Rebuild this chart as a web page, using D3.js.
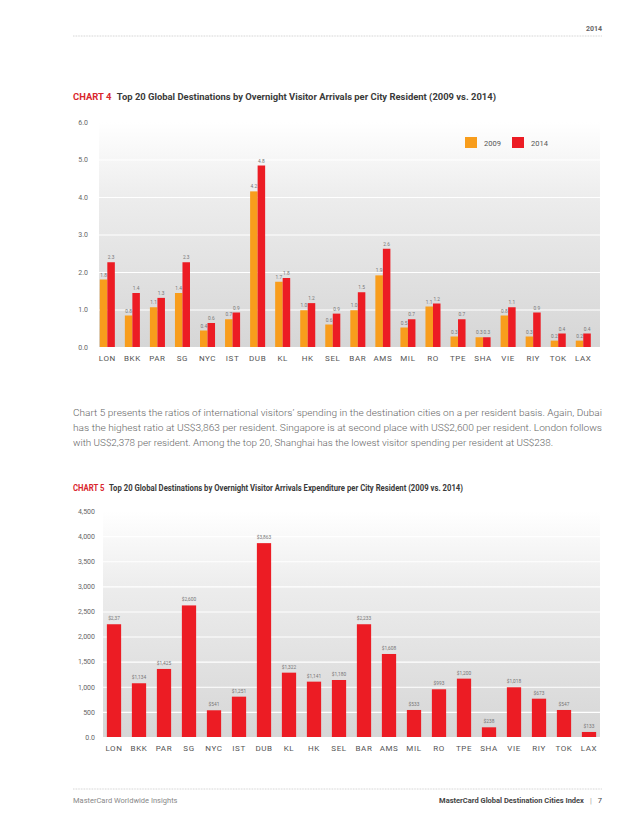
<!DOCTYPE html>
<html>
<head>
<meta charset="utf-8">
<script src="https://cdn.jsdelivr.net/npm/d3@7"></script>
<style>
  body { margin: 0; background: #fff; }
  svg { display: block; font-family: Roboto, 'Noto Sans', sans-serif; }
</style>
</head>
<body>
<div id="page"></div>
<script>
const cities = ['LON', 'BKK', 'PAR', 'SG', 'NYC', 'IST', 'DUB', 'KL', 'HK', 'SEL',
  'BAR', 'AMS', 'MIL', 'RO', 'TPE', 'SHA', 'VIE', 'RIY', 'TOK', 'LAX']

// chart 4 - arrivals per resident
const arrivals2009 = [1.80, 0.84, 1.06, 1.44, 0.44, 0.74, 4.15, 1.74, 0.98, 0.60,
  0.98, 1.91, 0.52, 1.08, 0.28, 0.26, 0.84, 0.28, 0.17, 0.17]
const arrivals2014 = [2.26, 1.44, 1.31, 2.26, 0.64, 0.92, 4.84, 1.84, 1.17, 0.89,
  1.46, 2.62, 0.74, 1.16, 0.74, 0.26, 1.06, 0.92, 0.36, 0.36]
const years = ['2009', '2014']
const ticks4 = [0, 1, 2, 3, 4, 5, 6]

// chart 5 - expenditure per resident
const spend = [2245, 1070, 1355, 2620, 532, 803, 3860, 1281, 1102, 1135,
  2245, 1653, 538, 950, 1162, 193, 990, 763, 538, 100]
const spendLabels = ['$2,37', '$1,134', '$1,425', '$2,600', '$541', '$1,251', '$3,863', '$1,322', '$1,141', '$1,180',
  '$2,233', '$1,608', '$533', '$993', '$1,200', '$238', '$1,018', '$673', '$547', '$133']
const ticks5 = [0, 500, 1000, 1500, 2000, 2500, 3000, 3500, 4000, 4500]
const ticks5Labels = ['0.0', '500', '1,000', '1,500', '2,000', '2,500', '3,000', '3,500', '4,000', '4,500']

const paragraph = [
  'Chart 5 presents the ratios of international visitors\u2019 spending in the destination cities on a per resident basis. Again, Dubai',
  'has the highest ratio at US$3,863 per resident. Singapore is at second place with US$2,600 per resident. London follows',
  'with US$2,378 per resident. Among the top 20, Shanghai has the lowest visitor spending per resident at US$238.'
]

const orange = '#f89d1c'
const red = '#ec1c24'
const titleRed = '#d9262d'

const width = 638
const height = 826

const svg = d3
  .select('#page')
  .append('svg')
  .attr('width', width)
  .attr('height', height)

const defs = svg.append('defs')
const grad = defs
  .append('linearGradient')
  .attr('id', 'bg')
  .attr('x1', 0)
  .attr('y1', 0)
  .attr('x2', 0)
  .attr('y2', 1)
grad.append('stop').attr('offset', '0%').attr('stop-color', '#ffffff')
grad.append('stop').attr('offset', '35%').attr('stop-color', '#ececec')
grad.append('stop').attr('offset', '100%').attr('stop-color', '#d6d6d6')

// header / footer rules
function dotted(y) {
  svg
    .append('line')
    .attr('x1', 73)
    .attr('x2', 602)
    .attr('y1', y)
    .attr('y2', y)
    .attr('stroke', '#aaa')
    .attr('stroke-width', 0.6)
    .attr('stroke-dasharray', '0.8,0.8')
}
dotted(36)
dotted(789)

svg
  .append('text')
  .attr('x', 602)
  .attr('y', 31)
  .attr('text-anchor', 'end')
  .attr('font-size', 7)
  .attr('font-weight', 700)
  .attr('fill', '#666')
  .text('2014')

svg
  .append('text')
  .attr('x', 73)
  .attr('y', 803)
  .attr('font-size', 7.5)
  .attr('fill', '#888')
  .text('MasterCard Worldwide Insights')

const foot = svg
  .append('text')
  .attr('x', 602)
  .attr('y', 803)
  .attr('text-anchor', 'end')
  .attr('font-size', 7.5)
  .attr('fill', '#444')
foot.append('tspan').attr('font-weight', 700).text('MasterCard Global Destination Cities Index')
foot.append('tspan').attr('fill', '#999').attr('dx', 6).text('|')
foot.append('tspan').attr('dx', 6).text('7')

function title(y, num, rest, len) {
  const t = svg
    .append('text')
    .attr('x', 73)
    .attr('y', y)
    .attr('font-size', 8.5)
    .attr('font-weight', 700)
    .attr('textLength', len)
    .attr('lengthAdjust', 'spacingAndGlyphs')
  t.append('tspan').attr('fill', titleRed).text('CHART ' + num)
  t.append('tspan').attr('fill', '#3a3a3a').attr('dx', 5).text(rest)
}

title(100, 4, 'Top 20 Global Destinations by Overnight Visitor Arrivals per City Resident (2009 vs. 2014)', 423)
title(491, 5, 'Top 20 Global Destinations by Overnight Visitor Arrivals Expenditure per City Resident (2009 vs. 2014)', 390)

svg
  .append('g')
  .selectAll('text')
  .data(paragraph)
  .enter()
  .append('text')
  .attr('x', 73)
  .attr('y', (d, i) => 416 + i * 15)
  .attr('font-size', 9.6)
  .attr('font-weight', 300)
  .attr('fill', '#666')
  .attr('textLength', (d, i) => (i < 2 ? 529 : 480))
  .attr('lengthAdjust', 'spacingAndGlyphs')
  .text(d => d)

// ---------- CHART 4 ----------
const c4 = svg.append('g')

const x4 = d3.scaleBand().domain(cities).range([94.8, 595.8]).paddingInner(0.4).paddingOuter(0.2)
const xYear = d3.scaleBand().domain(years).range([0, x4.bandwidth()])
const y4 = d3.scaleLinear().domain([0, 6]).range([347, 122])

c4.append('rect')
  .attr('x', 99)
  .attr('y', y4(6))
  .attr('width', 501)
  .attr('height', y4(0) - y4(6))
  .attr('fill', 'url(#bg)')

c4.append('g')
  .attr('class', 'grid')
  .attr('transform', 'translate(99,0)')
  .call(d3.axisLeft(y4).tickValues(ticks4.slice(1, 6)).tickSize(-501).tickFormat(''))
  .call(g => g.select('.domain').remove())
  .call(g => g.selectAll('line').attr('stroke', '#fff').attr('stroke-width', 1.1))

c4.append('g')
  .attr('transform', 'translate(88,0)')
  .call(d3.axisLeft(y4).tickValues(ticks4).tickSize(0).tickPadding(0).tickFormat(d3.format('.1f')))
  .call(g => g.select('.domain').remove())
  .call(g => g.selectAll('text').attr('font-size', 7).attr('fill', '#666').attr('font-family', 'Roboto'))

const rows4 = cities.map((c, i) => ({ city: c, values: [arrivals2009[i], arrivals2014[i]] }))

const groups = c4
  .selectAll('.city')
  .data(rows4)
  .enter()
  .append('g')
  .attr('class', 'city')
  .attr('transform', d => 'translate(' + x4(d.city) + ',0)')

groups
  .selectAll('rect')
  .data(d => years.map((yr, j) => ({ year: yr, value: d.values[j] })))
  .enter()
  .append('rect')
  .attr('x', d => xYear(d.year))
  .attr('width', xYear.bandwidth())
  .attr('y', d => y4(d.value))
  .attr('height', d => y4(0) - y4(d.value))
  .attr('fill', d => (d.year === '2009' ? orange : red))

groups
  .selectAll('text')
  .data(d => years.map((yr, j) => ({ year: yr, value: d.values[j] })))
  .enter()
  .append('text')
  .attr('x', d => xYear(d.year) + xYear.bandwidth() / 2)
  .attr('y', d => y4(d.value) - 3)
  .attr('text-anchor', 'middle')
  .attr('font-size', 4.8)
  .attr('fill', '#777')
  .text(d => d3.format('.1f')(d.value))

c4.append('g')
  .attr('transform', 'translate(0,' + y4(0) + ')')
  .call(d3.axisBottom(x4).tickSize(0).tickPadding(8))
  .call(g => g.select('.domain').remove())
  .call(g => g.selectAll('text').attr('font-size', 8).attr('fill', '#555').attr('font-family', 'Roboto').attr('letter-spacing', 0.6))

// legend
const legend = c4
  .selectAll('.legend')
  .data(years)
  .enter()
  .append('g')
  .attr('class', 'legend')
  .attr('transform', (d, i) => 'translate(' + (465 + i * 47) + ',137)')

legend
  .append('rect')
  .attr('width', 12)
  .attr('height', 11)
  .attr('fill', d => (d === '2009' ? orange : red))

legend
  .append('text')
  .attr('x', 19)
  .attr('y', 8.5)
  .attr('font-size', 7.5)
  .attr('fill', '#555')
  .text(d => d)

// ---------- CHART 5 ----------
const c5 = svg.append('g')

const x5 = d3.scaleBand().domain(cities).range([101.5, 601.5]).paddingInner(0.43).paddingOuter(0.215)
const y5 = d3.scaleLinear().domain([0, 4500]).range([737, 511])

c5.append('rect')
  .attr('x', 103)
  .attr('y', y5(4500))
  .attr('width', 497)
  .attr('height', y5(0) - y5(4500))
  .attr('fill', 'url(#bg)')

c5.append('g')
  .attr('transform', 'translate(103,0)')
  .call(d3.axisLeft(y5).tickValues(ticks5.slice(1, 9)).tickSize(-497).tickFormat(''))
  .call(g => g.select('.domain').remove())
  .call(g => g.selectAll('line').attr('stroke', '#fff').attr('stroke-width', 1.1))

c5.append('g')
  .attr('transform', 'translate(95,0)')
  .call(d3.axisLeft(y5).tickValues(ticks5).tickSize(0).tickPadding(0).tickFormat((d, i) => ticks5Labels[i]))
  .call(g => g.select('.domain').remove())
  .call(g => g.selectAll('text').attr('font-size', 7).attr('fill', '#666').attr('font-family', 'Roboto'))

const rows5 = cities.map((c, i) => ({ city: c, value: spend[i], label: spendLabels[i] }))

c5.selectAll('.bar')
  .data(rows5)
  .enter()
  .append('rect')
  .attr('class', 'bar')
  .attr('x', d => x5(d.city))
  .attr('width', x5.bandwidth())
  .attr('y', d => y5(d.value))
  .attr('height', d => y5(0) - y5(d.value))
  .attr('fill', red)

c5.selectAll('.val')
  .data(rows5)
  .enter()
  .append('text')
  .attr('class', 'val')
  .attr('x', d => x5(d.city) + x5.bandwidth() / 2)
  .attr('y', d => y5(d.value) - 4)
  .attr('text-anchor', 'middle')
  .attr('font-size', 4.8)
  .attr('fill', '#777')
  .text(d => d.label)

c5.append('g')
  .attr('transform', 'translate(0,' + y5(0) + ')')
  .call(d3.axisBottom(x5).tickSize(0).tickPadding(8))
  .call(g => g.select('.domain').remove())
  .call(g => g.selectAll('text').attr('font-size', 8).attr('fill', '#555').attr('font-family', 'Roboto').attr('letter-spacing', 0.6))
</script>
</body>
</html>
